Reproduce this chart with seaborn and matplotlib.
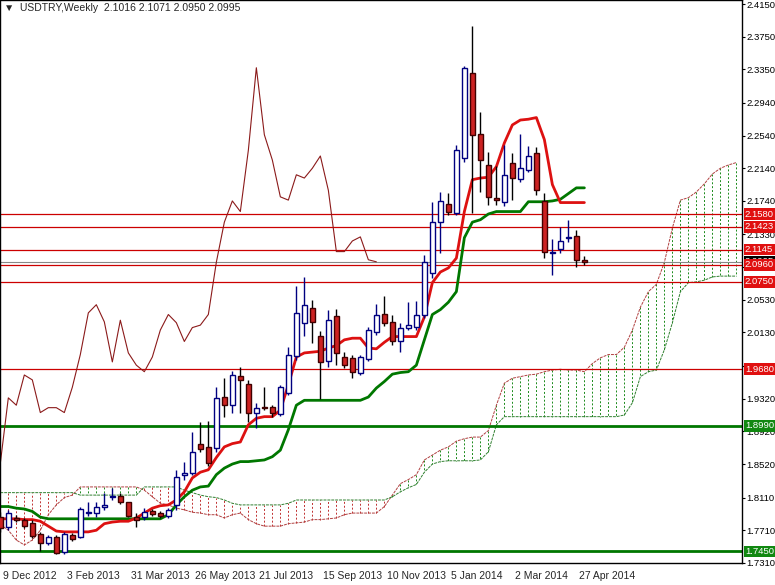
import numpy as np
import pandas as pd
import seaborn as sns
import matplotlib
matplotlib.use("Agg")
import matplotlib.pyplot as plt
from matplotlib.transforms import ScaledTranslation

# Weekly USDTRY candles, bar 0 = week of 9 Dec 2012
opens = [1.787, 1.775, 1.786, 1.784, 1.780, 1.767, 1.755, 1.763, 1.744, 1.765,
         1.763, 1.792, 1.792, 1.800, 1.812, 1.813, 1.805, 1.787, 1.787, 1.795,
         1.792, 1.789, 1.802, 1.838, 1.841, 1.877, 1.873, 1.872, 1.934, 1.924,
         1.960, 1.950, 1.915, 1.922, 1.922, 1.913, 1.939, 1.984, 2.025, 2.043,
         2.009, 1.978, 2.033, 1.983, 1.982, 1.964, 1.981, 2.013, 2.036, 2.026,
         2.003, 2.019, 2.020, 2.035, 2.086, 2.148, 2.170, 2.159, 2.227, 2.331,
         2.256, 2.218, 2.178, 2.173, 2.221, 2.201, 2.212, 2.233, 2.174, 2.110,
         2.115, 2.129, 2.131, 2.1016]
highs = [1.793, 1.796, 1.790, 1.786, 1.784, 1.769, 1.765, 1.765, 1.769, 1.768,
         1.799, 1.805, 1.805, 1.817, 1.823, 1.816, 1.806, 1.792, 1.798, 1.797,
         1.795, 1.798, 1.845, 1.855, 1.891, 1.904, 1.905, 1.946, 1.957, 1.966,
         1.971, 1.955, 1.927, 1.946, 1.924, 1.949, 1.995, 2.070, 2.081, 2.053,
         2.015, 2.041, 2.042, 1.989, 1.986, 1.986, 2.020, 2.048, 2.058, 2.035,
         2.025, 2.050, 2.052, 2.108, 2.173, 2.185, 2.184, 2.243, 2.339, 2.388,
         2.283, 2.234, 2.217, 2.243, 2.233, 2.256, 2.241, 2.240, 2.184, 2.127,
         2.142, 2.151, 2.139, 2.1071]
lows = [1.769, 1.771, 1.781, 1.774, 1.762, 1.746, 1.753, 1.742, 1.742, 1.758,
        1.762, 1.789, 1.787, 1.796, 1.808, 1.803, 1.787, 1.775, 1.784, 1.789,
        1.786, 1.786, 1.796, 1.833, 1.838, 1.867, 1.850, 1.867, 1.910, 1.915,
        1.915, 1.904, 1.896, 1.918, 1.909, 1.911, 1.937, 1.979, 2.009, 2.000,
        1.931, 1.971, 1.973, 1.970, 1.957, 1.961, 1.978, 2.010, 2.021, 1.998,
        1.989, 2.016, 2.016, 2.031, 2.080, 2.110, 2.157, 2.157, 2.222, 2.159,
        2.185, 2.169, 2.169, 2.168, 2.175, 2.197, 2.210, 2.181, 2.104, 2.083,
        2.110, 2.124, 2.093, 2.0950]
closes = [1.774, 1.792, 1.784, 1.776, 1.764, 1.755, 1.763, 1.743, 1.767, 1.760,
          1.797, 1.793, 1.800, 1.802, 1.813, 1.805, 1.789, 1.784, 1.793, 1.791,
          1.789, 1.796, 1.836, 1.841, 1.867, 1.871, 1.853, 1.933, 1.924, 1.961,
          1.955, 1.915, 1.921, 1.921, 1.915, 1.946, 1.986, 2.037, 2.047, 2.026,
          1.977, 2.028, 1.988, 1.973, 1.965, 1.983, 2.016, 2.035, 2.025, 2.002,
          2.019, 2.022, 2.035, 2.099, 2.148, 2.174, 2.161, 2.236, 2.337, 2.255,
          2.224, 2.179, 2.175, 2.206, 2.202, 2.214, 2.229, 2.187, 2.112, 2.112,
          2.125, 2.130, 2.102, 2.0995]

tenkan = [1.785, 1.785, 1.785, 1.784, 1.784, 1.782, 1.776, 1.770, 1.769, 1.769,
          1.769, 1.769, 1.771, 1.779, 1.781, 1.782, 1.782, 1.786, 1.792, 1.798,
          1.801, 1.802, 1.808, 1.818, 1.835, 1.842, 1.845, 1.860, 1.873, 1.877,
          1.879, 1.900, 1.908, 1.910, 1.910, 1.918, 1.949, 1.983, 1.988, 1.989,
          1.990, 1.994, 1.997, 2.004, 2.006, 2.006, 1.994, 1.993, 2.001, 2.008,
          2.008, 2.008, 2.008, 2.032, 2.074, 2.087, 2.092, 2.104, 2.161, 2.200,
          2.202, 2.203, 2.216, 2.245, 2.267, 2.273, 2.274, 2.276, 2.249, 2.194,
          2.172, 2.172, 2.172, 2.172]
kijun = [1.800, 1.800, 1.798, 1.797, 1.794, 1.787] + [1.785] * 15 + \
        [1.790, 1.802, 1.812, 1.820, 1.824, 1.825, 1.839, 1.847, 1.852, 1.855,
         1.855, 1.856, 1.857, 1.861, 1.869, 1.894, 1.924] + [1.930] * 8 + \
        [1.934, 1.945, 1.953, 1.962, 1.964, 1.965, 1.973, 2.004, 2.035, 2.041,
         2.050, 2.063, 2.129, 2.148, 2.151, 2.158, 2.161, 2.161, 2.161, 2.161,
         2.173, 2.173, 2.173, 2.174, 2.176, 2.183, 2.190, 2.190]

# Ichimoku cloud, already shifted 26 bars forward
span_a = [1.778, 1.771, 1.759, 1.753, 1.759, 1.771, 1.790, 1.802, 1.811, 1.814] + \
         [1.824] * 8 + \
         [1.820, 1.812, 1.804, 1.802, 1.798, 1.796, 1.793, 1.792, 1.790, 1.790, 1.786, 1.790] + \
         [1.792, 1.784, 1.779, 1.776, 1.776, 1.776, 1.779, 1.780, 1.781, 1.784,
          1.784, 1.785, 1.786, 1.790, 1.792, 1.792, 1.792, 1.792, 1.800] + \
         [1.814, 1.828, 1.833, 1.839, 1.857, 1.863, 1.869, 1.873, 1.880, 1.883, 1.885, 1.885] + \
         [1.893, 1.924, 1.951, 1.957, 1.959, 1.961, 1.962, 1.965, 1.967, 1.968, 1.967, 1.967, 1.965] + \
         [1.975, 1.982, 1.986, 1.986, 1.995, 2.016, 2.044, 2.063, 2.072, 2.099,
          2.141, 2.175, 2.178, 2.185, 2.195, 2.207, 2.214, 2.218, 2.221]
span_b = [1.817] * 10 + [1.814] * 8 + [1.824] * 5 + \
         [1.820, 1.817, 1.814, 1.812, 1.811, 1.808, 1.804] + [1.802] * 6 + [1.804] + \
         [1.808] * 12 + \
         [1.812, 1.818, 1.823, 1.827, 1.842, 1.852, 1.855, 1.856, 1.856, 1.856, 1.856, 1.857] + \
         [1.867, 1.900] + [1.910] * 15 + \
         [1.912, 1.927, 1.959, 1.965, 1.967, 1.992, 2.025, 2.063, 2.074, 2.075,
          2.077, 2.081, 2.082, 2.082, 2.082]

red_levels = [2.1580, 2.1423, 2.1145, 2.0960, 2.0750, 1.9680]
green_levels = [1.8990, 1.7450]
last_price = 2.0995
tick_prices = [2.4150, 2.3750, 2.3350, 2.2940, 2.2540, 2.2140, 2.1740, 2.1330, 2.0930,
               2.0530, 2.0130, 1.9720, 1.9320, 1.8920, 1.8520, 1.8110, 1.7710, 1.7310]
date_labels = ["9 Dec 2012", "3 Feb 2013", "31 Mar 2013", "26 May 2013", "21 Jul 2013",
               "15 Sep 2013", "10 Nov 2013", "5 Jan 2014", "2 Mar 2014", "27 Apr 2014"]
date_bars = [0, 8, 16, 24, 32, 40, 48, 56, 64, 72]

SHIFT = 26
candles = pd.DataFrame({"open": opens, "high": highs, "low": lows, "close": closes})
candles["bar"] = np.arange(len(candles))
candles["tenkan"] = tenkan
candles["kijun"] = kijun
chikou = pd.DataFrame({"bar": candles["bar"][SHIFT:] - SHIFT, "price": candles["close"][SHIFT:]})
cloud = pd.DataFrame({"bar": np.arange(len(span_a)), "a": span_a, "b": span_b})

sns.set_style("white")
plt.rcParams["font.family"] = ["Liberation Sans", "DejaVu Sans"]
fig = plt.figure(figsize=(7.75, 5.85), dpi=100)
ax = fig.add_axes([0.0, 22 / 585, 742 / 775, 563 / 585])

RED = "#cc0000"
GREEN = "#007700"
FS = 7.5
YFS = 6.8

# cloud hatching
up = cloud["a"] >= cloud["b"]
for mask, col in [(up, "#1a8a1a"), (~up, "#c03030")]:
    sub = cloud[mask]
    ax.vlines(sub["bar"], sub["a"], sub["b"], colors=col, linewidth=0.7, linestyles=(0, (2, 2)))
sns.lineplot(data=cloud, x="bar", y="a", ax=ax, color="#b04040", linewidth=0.7, linestyle=(0, (3, 1)))
sns.lineplot(data=cloud, x="bar", y="b", ax=ax, color="#308030", linewidth=0.7, linestyle=(0, (3, 1)))

# horizontal levels
for lv in red_levels:
    ax.axhline(lv, color=RED, linewidth=0.9)
for lv in green_levels:
    ax.axhline(lv, color=GREEN, linewidth=2)
ax.axhline(last_price, color="#888888", linewidth=0.8)

# chikou, tenkan, kijun
sns.lineplot(data=chikou, x="bar", y="price", ax=ax, color="#8b1a1a", linewidth=0.8)
sns.lineplot(data=candles, x="bar", y="kijun", ax=ax, color=GREEN, linewidth=2)
sns.lineplot(data=candles, x="bar", y="tenkan", ax=ax, color="#dd1111", linewidth=2)

# candles
bull = candles["close"] >= candles["open"]
bear = ~bull
ax.vlines(candles["bar"][bull], candles["low"][bull], candles["high"][bull], color="#000080", linewidth=1)
ax.vlines(candles["bar"][bear], candles["low"][bear], candles["high"][bear], color="black", linewidth=1)
body_lo = np.minimum(candles["open"], candles["close"])
body_h = np.maximum(np.abs(candles["close"] - candles["open"]), 0.0008)
ax.bar(candles["bar"][bull], body_h[bull], bottom=body_lo[bull], width=0.6,
       color="white", edgecolor="#000080", linewidth=1, zorder=3)
ax.bar(candles["bar"][bear], body_h[bear], bottom=body_lo[bear], width=0.6,
       color="#cc2222", edgecolor="#400000", linewidth=1, zorder=3)

ax.set_xlim(-0.04, 92.7)
ax.set_ylim(1.7309, 2.4199)
ax.set_xlabel("")
ax.set_ylabel("")

# right price axis
ax.yaxis.tick_right()
ax.set_yticks(tick_prices)
ax.set_yticklabels([f"{p:.4f}" for p in tick_prices], fontsize=YFS)
ax.tick_params(axis="y", length=2, pad=1, colors="black")
ax.set_xticks(date_bars)
ax.set_xticklabels(date_labels, fontsize=FS, ha="left")
ax.tick_params(axis="x", length=4, pad=2)
shift = ScaledTranslation(3 / 100, 0, fig.dpi_scale_trans)
for lbl in ax.get_xticklabels():
    lbl.set_transform(lbl.get_transform() + shift)
for sp in ax.spines.values():
    sp.set_color("black")
    sp.set_linewidth(1)

tr = ax.get_yaxis_transform()
box_x = 1.004
ax.text(box_x, last_price, "2.0995", transform=tr, fontsize=YFS, color="white", va="center",
        ha="left", bbox=dict(boxstyle="square,pad=0.15", fc="black", ec="none"), clip_on=False, zorder=5)
for lv in red_levels:
    ax.text(box_x, lv, f"{lv:.4f}", transform=tr, fontsize=YFS, color="white", va="center", ha="left",
            bbox=dict(boxstyle="square,pad=0.15", fc="#e01010", ec="none"), clip_on=False, zorder=6)
for lv in green_levels:
    ax.text(box_x, lv, f"{lv:.4f}", transform=tr, fontsize=YFS, color="white", va="center", ha="left",
            bbox=dict(boxstyle="square,pad=0.15", fc="#118811", ec="none"), clip_on=False, zorder=6)

ax.text(0.005, 0.995, "\u25bc  USDTRY,Weekly  2.1016 2.1071 2.0950 2.0995", transform=ax.transAxes,
        fontsize=FS, va="top", ha="left", family=["Liberation Sans", "DejaVu Sans"])

fig.savefig("out.png", dpi=100)
